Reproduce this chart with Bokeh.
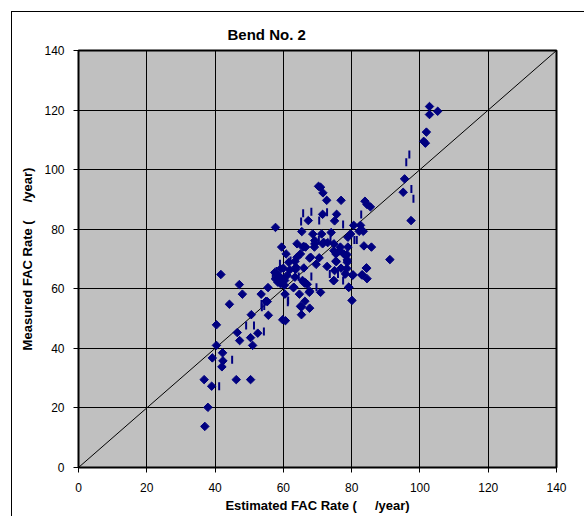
import math
from bokeh.plotting import figure
from bokeh.models import FixedTicker, Range1d
from bokeh.embed import file_html
from bokeh.resources import INLINE

title_text = "Bend No. 2"
x_label = "Estimated FAC Rate (\u00a0\u00a0\u00a0\u00a0\u00a0/year)"
y_label = "Measured FAC Rate (\u00a0\u00a0\u00a0\u00a0\u00a0/year)"
ticks = [0, 20, 40, 60, 80, 100, 120, 140]
diag = [0, 140]

# Series 1 (diamonds): estimated, measured
est1 = [37.0, 37.9, 36.8, 39.0, 46.2, 50.4,
        39.2, 42.3, 42.0, 42.2, 40.4, 51.0,
        40.4, 46.5, 47.2, 50.4, 52.5,
        44.2, 50.6, 55.6, 59.8, 60.6, 65.3,
        55.3, 54.9, 65.3, 66.3, 67.7, 65.0,
        41.7, 47.1, 48.0, 53.5, 55.5, 60.5, 64.7,
        57.5, 58.4, 59.0, 61.1, 63.4, 65.6, 66.5,
        57.7, 58.4, 59.2, 60.3, 62.9, 66.3, 67.0,
        67.6, 70.9, 67.7, 63.1, 60.4, 66.0,
        80.1, 79.1, 79.2, 74.7, 74.8,
        78.2, 80.3, 83.0, 84.5, 83.1, 80.4,
        60.0, 61.9, 63.7, 59.2, 63.6, 66.0, 72.8, 75.0, 76.9, 78.6, 84.3, 84.4,
        63.4, 69.6, 61.6, 78.7, 75.5, 91.2,
        64.0, 67.7, 70.5, 75.4, 78.7, 68.0,
        60.8, 65.0, 74.8, 76.5, 77.7, 78.3, 75.4, 78.6,
        59.5, 64.0, 65.7, 66.5, 69.1, 76.7, 78.9, 83.6, 85.8, 69.2, 71.5, 66.0,
        69.2, 71.8, 74.8, 73.0,
        65.4, 68.6, 71.2, 74.0, 78.9, 79.7, 82.2, 83.4,
        57.7, 80.6, 82.6,
        67.3, 75.0,
        71.5, 75.6,
        72.7, 76.9, 83.9, 84.5, 85.5,
        70.3, 70.9, 71.6,
        95.1, 95.5, 97.4,
        101.1, 101.6, 101.9, 102.8, 102.8, 105.2]
meas1 = [13.8, 20.2, 29.5, 27.3, 29.5, 29.5,
         36.8, 35.8, 33.8, 38.5, 41.0, 41.0,
         47.9, 45.3, 42.6, 43.6, 45.1,
         54.8, 51.3, 51.1, 49.6, 49.3, 51.3,
         55.7, 55.8, 53.9, 55.8, 53.5, 54.1,
         64.8, 61.4, 58.2, 58.2, 60.4, 58.2, 58.2,
         65.5, 64.7, 63.9, 64.5, 63.9, 62.8, 62.0,
         63.3, 62.2, 61.7, 61.2, 60.4, 61.9, 61.5,
         58.8, 58.8, 59.2, 60.5, 62.8, 62.2,
         56.1, 60.5, 60.5, 62.7, 62.8,
         65.0, 64.5, 64.6, 63.4, 64.7, 64.7,
         66.9, 66.4, 67.2, 66.7, 66.5, 67.0, 67.5, 66.1, 66.9, 66.8, 67.0, 66.9,
         69.2, 68.2, 68.9, 68.9, 69.1, 69.8,
         70.6, 70.3, 70.4, 69.3, 69.7, 70.6,
         71.7, 71.7, 72.8, 72.8, 71.7, 71.2, 71.7, 71.5,
         74.0, 75.1, 74.0, 74.0, 74.0, 74.0, 74.0, 74.4, 74.0, 75.1, 75.1, 74.2,
         76.2, 75.6, 75.1, 75.5,
         79.2, 78.4, 78.4, 78.9, 77.3, 78.4, 79.3, 79.3,
         80.6, 81.3, 81.3,
         82.9, 82.8,
         85.0, 85.0,
         89.7, 89.7, 89.4, 88.3, 87.5,
         94.4, 94.1, 92.2,
         92.4, 96.9, 82.9,
         109.5, 108.9, 112.6, 118.5, 121.2, 119.6]

# Series 2 (vertical dashes): estimated, measured
est2 = [41.2, 45.0, 49.1, 51.4, 54.3, 53.7, 54.4, 53.6, 61.3, 61.4,
        56.9, 58.0, 59.0, 62.1, 64.5, 68.2, 69.7, 73.6, 76.0, 77.8, 77.5,
        70.4, 73.8, 76.2, 80.8, 81.5,
        65.8, 68.2, 65.2, 70.5, 72.8, 77.5, 82.8,
        96.9, 96.0, 97.5, 98.1]
meas2 = [27.3, 36.2, 47.7, 47.7, 45.7, 53.8, 54.2, 54.9, 55.5, 56.1,
         64.5, 66.0, 68.4, 69.5, 64.1, 64.1, 60.5, 65.0, 65.0, 64.8, 62.8,
         76.4, 76.4, 72.8, 76.4, 76.4,
         85.4, 85.9, 82.6, 82.9, 85.7, 81.6, 84.9,
         105.1, 102.5, 93.5, 90.2]

FONT = "Liberation Sans"
NAVY = "#000080"

p = figure(width=573, height=505, output_backend="svg", toolbar_location=None,
           x_range=Range1d(0, 140), y_range=Range1d(0, 140),
           min_border_left=66, min_border_right=29, min_border_top=38, min_border_bottom=50)
p.styles = {"margin-left": "11px", "margin-top": "11px",
            "border-left": "1px solid black", "border-top": "1px solid black"}

p.title.text = title_text
p.title.align = "left"
p.title.offset = 149
p.title.text_font = FONT
p.title.text_font_size = "15px"
p.title.text_font_style = "bold"
p.title.text_color = "black"
p.title.standoff = 16

p.background_fill_color = "#C0C0C0"
p.border_fill_color = "white"
p.outline_line_color = "black"
p.outline_line_width = 2

for ax in (p.xaxis[0], p.yaxis[0]):
    ax.ticker = FixedTicker(ticks=ticks)
    ax.axis_line_color = None
    ax.major_tick_out = 5
    ax.major_tick_in = 0
    ax.minor_tick_line_color = None
    ax.major_tick_line_color = "black"
    ax.major_label_text_font = FONT
    ax.major_label_text_font_size = "12px"
    ax.major_label_text_color = "black"
    ax.axis_label_text_font = FONT
    ax.axis_label_text_font_size = "13px"
    ax.axis_label_text_font_style = "bold"
    ax.axis_label_text_color = "black"

p.xaxis.axis_label = x_label
p.yaxis.axis_label = y_label
p.xaxis.major_label_standoff = 10
p.yaxis.major_label_standoff = 9
p.xaxis.axis_label_standoff = 3
p.yaxis.axis_label_standoff = 6

for g in (p.xgrid[0], p.ygrid[0]):
    g.ticker = FixedTicker(ticks=ticks)
    g.grid_line_color = "black"
    g.grid_line_width = 1

p.line(diag, diag, line_color="black", line_width=1)

p.scatter(est2, meas2, marker="dash", angle=math.pi / 2, size=8,
          line_color=NAVY, line_width=2)
p.scatter(est1, meas1, marker="square", angle=math.pi / 4, size=6,
          fill_color=NAVY, line_color=NAVY)

open("out.html", "w").write(file_html(p, INLINE))
